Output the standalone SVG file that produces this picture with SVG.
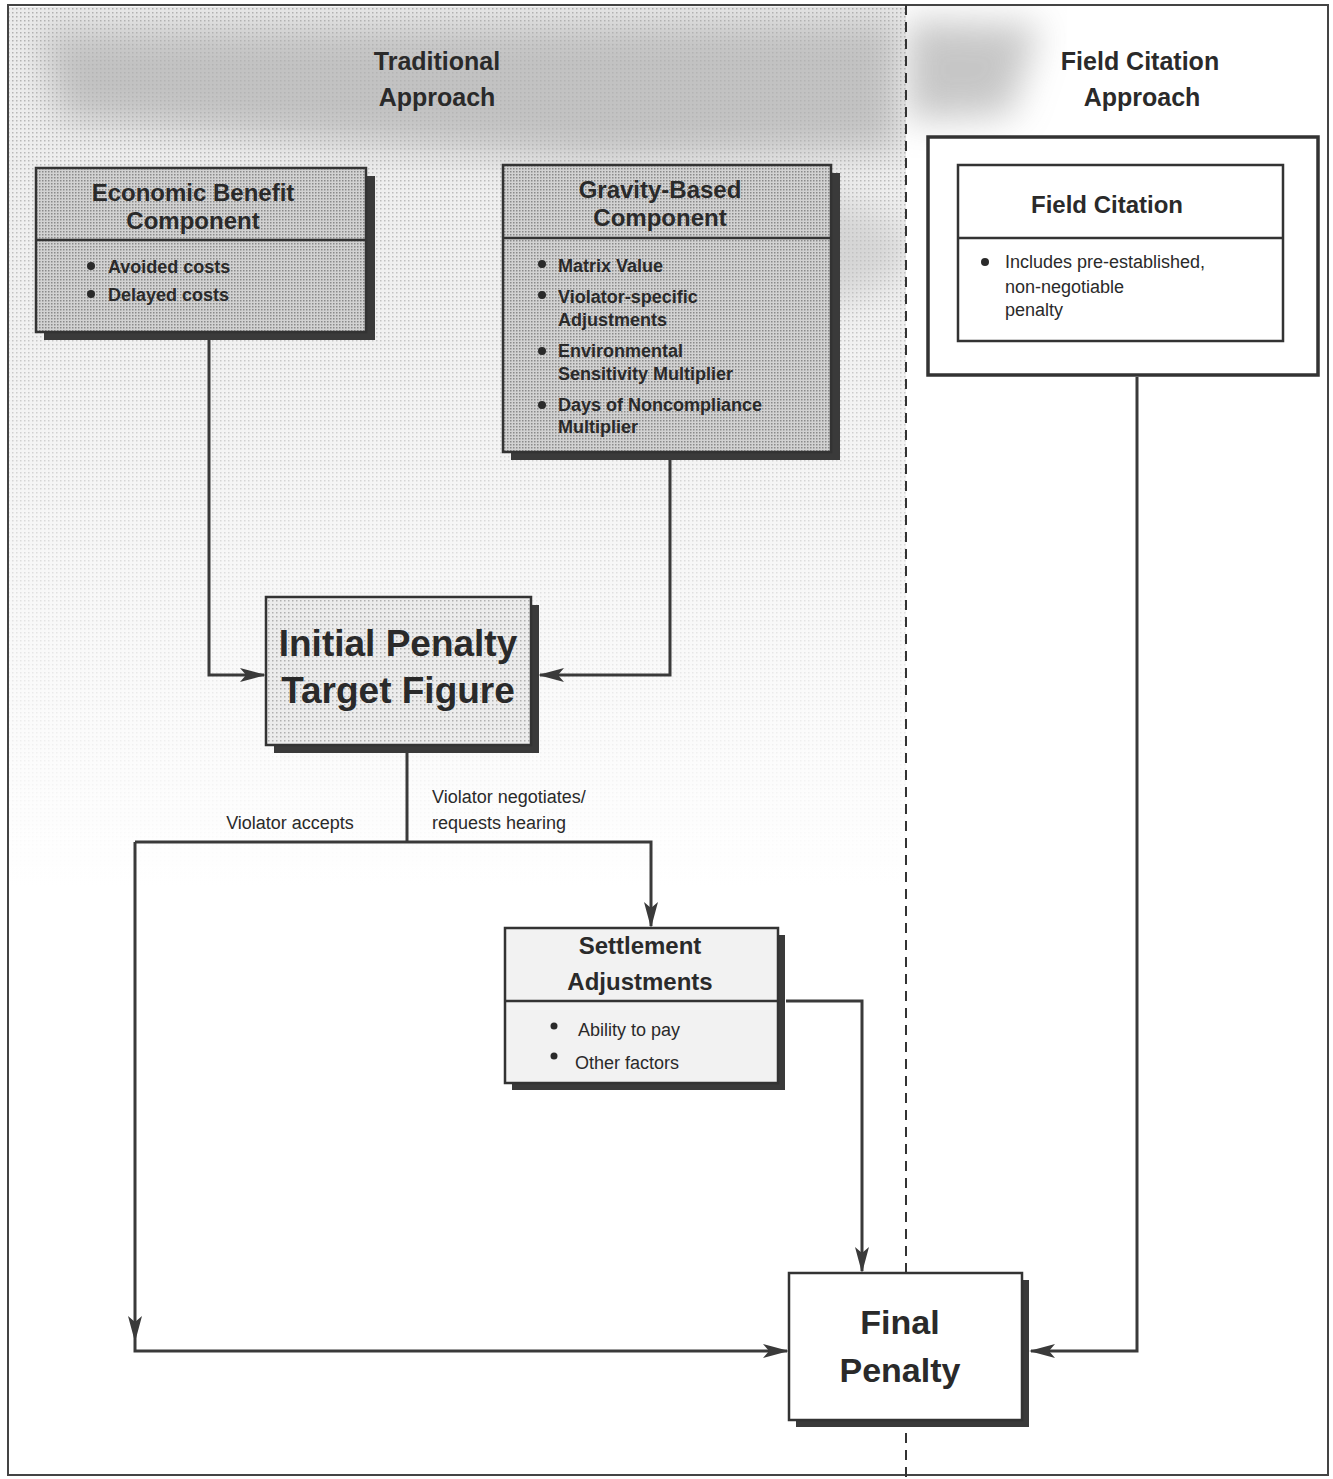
<svg xmlns="http://www.w3.org/2000/svg" width="1333" height="1479" viewBox="0 0 1333 1479">
<defs>
  <pattern id="dots" width="3" height="3" patternUnits="userSpaceOnUse">
    <rect width="3" height="3" fill="#d2d2d2"/>
    <rect width="1.5" height="1.5" fill="#8a8a8a"/>
  </pattern>
  <pattern id="dotsLight" width="4" height="4" patternUnits="userSpaceOnUse">
    <rect width="4" height="4" fill="#ececec"/>
    <rect width="1.5" height="1.5" fill="#b0b0b0"/>
  </pattern>
  <linearGradient id="fade" x1="0" y1="0" x2="0" y2="1">
    <stop offset="0" stop-color="#fff" stop-opacity="0"/>
    <stop offset="0.35" stop-color="#fff" stop-opacity="0.25"/>
    <stop offset="1" stop-color="#fff" stop-opacity="1"/>
  </linearGradient>
  <filter id="blur" x="-20%" y="-50%" width="140%" height="200%">
    <feGaussianBlur stdDeviation="18"/>
  </filter>
  <clipPath id="leftClip"><rect x="9" y="6" width="897" height="1468"/></clipPath>
  <clipPath id="rightClip"><rect x="906" y="6" width="421" height="1468"/></clipPath>
  <marker id="arr" viewBox="0 0 26 14" refX="24" refY="7" markerWidth="26" markerHeight="14" markerUnits="userSpaceOnUse" orient="auto">
    <path d="M0,0 L26,7 L0,14 L6,7 Z" fill="#3a3a3a"/>
  </marker>
  <style>
    .t{font-family:"Liberation Sans",Arial,sans-serif;fill:#2a2a2a}
    .title{font-size:25px;font-weight:bold}
    .head{font-size:24px;font-weight:bold}
    .bul{font-size:18px;font-weight:bold}
    .bn{font-size:18px}
    .big{font-size:37px;font-weight:bold}
    .lbl{font-size:18px}
    .box{stroke:#333;stroke-width:2.5}
    .shadow{fill:#3a3a3a}
    .conn{fill:none;stroke:#3a3a3a;stroke-width:3}
  </style>
</defs>
<rect width="1333" height="1479" fill="#fff"/>
<!-- background shading -->
<g id="background">
  <g clip-path="url(#leftClip)">
    <rect x="9" y="7" width="897" height="880" fill="url(#dotsLight)"/>
    <rect x="9" y="7" width="897" height="880" fill="url(#fade)"/>
    <path d="M40,30 L900,20 L900,150 L600,160 L300,140 L60,120 Z" fill="#b4b4b4" filter="url(#blur)" opacity="0.75"/>
    <ellipse cx="760" cy="250" rx="150" ry="60" fill="#c4c4c4" filter="url(#blur)" opacity="0.6"/>
  </g>
  <g clip-path="url(#rightClip)">
    <path d="M906,20 L1040,25 L1010,115 L906,120 Z" fill="#b4b4b4" filter="url(#blur)" opacity="0.75"/>
  </g>
</g>
<!-- frame -->
<rect x="8" y="5" width="1320" height="1470" fill="none" stroke="#444" stroke-width="2"/>
<line x1="906" y1="5" x2="906" y2="1479" stroke="#333" stroke-width="2" stroke-dasharray="10,7"/>
<!-- titles -->
<g id="title-traditional">
  <text class="t title" x="437" y="70" text-anchor="middle">Traditional</text>
  <text class="t title" x="437" y="106" text-anchor="middle">Approach</text>
</g>
<g id="title-field">
  <text class="t title" x="1140" y="70" text-anchor="middle">Field Citation</text>
  <text class="t title" x="1142" y="106" text-anchor="middle">Approach</text>
</g>
<!-- connectors -->
<g id="connectors">
  <polyline class="conn" points="209,340 209,675 264,675" marker-end="url(#arr)"/>
  <polyline class="conn" points="670,460 670,675 540,675" marker-end="url(#arr)"/>
  <polyline class="conn" points="407,753 407,842"/>
  <polyline class="conn" points="135,842 651,842 651,926" marker-end="url(#arr)"/>
  <polyline class="conn" points="135,842 135,1336"/>
  <path d="M128,1316 L135,1342 L142,1316 L135,1322 Z" fill="#3a3a3a"/>
  <polyline class="conn" points="135,1336 135,1351 787,1351" marker-end="url(#arr)"/>
  <polyline class="conn" points="786,1001 862,1001 862,1271" marker-end="url(#arr)"/>
  <polyline class="conn" points="1137,377 1137,1351 1031,1351" marker-end="url(#arr)"/>
  <text class="t lbl" x="290" y="829" text-anchor="middle">Violator accepts</text>
  <text class="t lbl" x="432" y="803">Violator negotiates/</text>
  <text class="t lbl" x="432" y="829">requests hearing</text>
</g>
<!-- Economic Benefit -->
<g id="economic-benefit">
  <rect class="shadow" x="44" y="176" width="331" height="164"/>
  <rect class="box" x="36" y="168" width="330" height="164" fill="url(#dots)"/>
  <line class="box" x1="36" y1="240" x2="366" y2="240"/>
  <text class="t head" x="193" y="201" text-anchor="middle">Economic Benefit</text>
  <text class="t head" x="193" y="229" text-anchor="middle">Component</text>
  <circle cx="91" cy="266" r="4" fill="#2a2a2a"/>
  <text class="t bul" x="108" y="273">Avoided costs</text>
  <circle cx="91" cy="294" r="4" fill="#2a2a2a"/>
  <text class="t bul" x="108" y="301">Delayed costs</text>
</g>
<!-- Gravity-Based -->
<g id="gravity-based">
  <rect class="shadow" x="511" y="173" width="329" height="287"/>
  <rect class="box" x="503" y="165" width="328" height="287" fill="url(#dots)"/>
  <line class="box" x1="503" y1="238" x2="831" y2="238"/>
  <text class="t head" x="660" y="198" text-anchor="middle">Gravity-Based</text>
  <text class="t head" x="660" y="226" text-anchor="middle">Component</text>
  <circle cx="542" cy="264" r="4" fill="#2a2a2a"/>
  <text class="t bul" x="558" y="272">Matrix Value</text>
  <circle cx="542" cy="295" r="4" fill="#2a2a2a"/>
  <text class="t bul" x="558" y="303">Violator-specific</text>
  <text class="t bul" x="558" y="326">Adjustments</text>
  <circle cx="542" cy="351" r="4" fill="#2a2a2a"/>
  <text class="t bul" x="558" y="357">Environmental</text>
  <text class="t bul" x="558" y="380">Sensitivity Multiplier</text>
  <circle cx="542" cy="405" r="4" fill="#2a2a2a"/>
  <text class="t bul" x="558" y="411">Days of Noncompliance</text>
  <text class="t bul" x="558" y="433">Multiplier</text>
</g>
<!-- Field Citation -->
<g id="field-citation">
  <rect x="928" y="137" width="390" height="238" fill="#fff" stroke="#333" stroke-width="3.5"/>
  <rect class="box" x="958" y="165" width="325" height="176" fill="#fff"/>
  <line class="box" x1="958" y1="238" x2="1283" y2="238"/>
  <text class="t head" x="1107" y="213" text-anchor="middle">Field Citation</text>
  <circle cx="985" cy="262" r="4" fill="#2a2a2a"/>
  <text class="t bn" x="1005" y="268">Includes pre-established,</text>
  <text class="t bn" x="1005" y="293">non-negotiable</text>
  <text class="t bn" x="1005" y="316">penalty</text>
</g>
<!-- Initial Penalty -->
<g id="initial-penalty">
  <rect class="shadow" x="274" y="605" width="265" height="148"/>
  <rect class="box" x="266" y="597" width="265" height="148" fill="url(#dotsLight)"/>
  <text class="t big" x="398" y="656" text-anchor="middle">Initial Penalty</text>
  <text class="t big" x="398" y="703" text-anchor="middle">Target Figure</text>
</g>
<!-- Settlement -->
<g id="settlement-adjustments">
  <rect class="shadow" x="512" y="935" width="273" height="155"/>
  <rect class="box" x="505" y="928" width="273" height="155" fill="#f2f2f2"/>
  <line class="box" x1="505" y1="1001" x2="778" y2="1001"/>
  <text class="t head" x="640" y="954" text-anchor="middle">Settlement</text>
  <text class="t head" x="640" y="990" text-anchor="middle">Adjustments</text>
  <circle cx="554" cy="1026" r="3.5" fill="#2a2a2a"/>
  <text class="t bn" x="578" y="1036">Ability to pay</text>
  <circle cx="554" cy="1056" r="3.5" fill="#2a2a2a"/>
  <text class="t bn" x="575" y="1069">Other factors</text>
</g>
<!-- Final Penalty -->
<g id="final-penalty">
  <rect class="shadow" x="796" y="1280" width="233" height="147"/>
  <rect class="box" x="789" y="1273" width="233" height="147" fill="#fff"/>
  <text class="t big" x="900" y="1334" text-anchor="middle" style="font-size:34px">Final</text>
  <text class="t big" x="900" y="1382" text-anchor="middle" style="font-size:34px">Penalty</text>
</g>
</svg>
